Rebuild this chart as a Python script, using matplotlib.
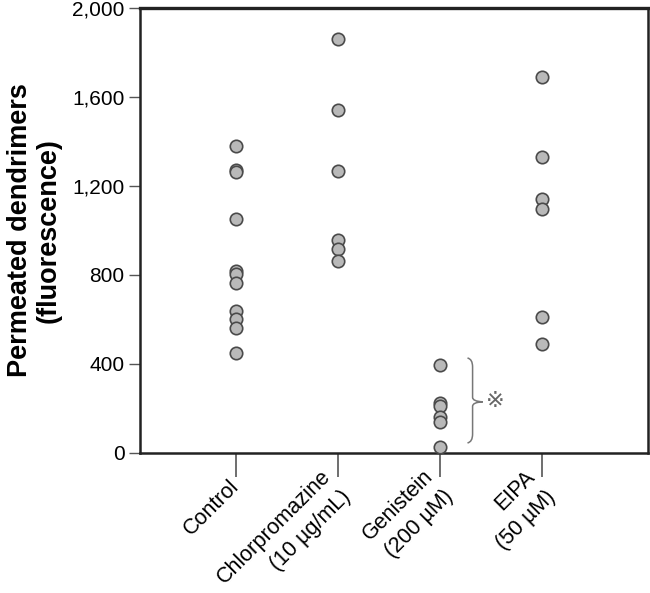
import numpy as np
import matplotlib
matplotlib.use("Agg")
from matplotlib import pyplot as plt
from matplotlib.path import Path
from matplotlib.patches import PathPatch

plt.rcParams['font.family'] = ['Liberation Sans', 'DejaVu Sans']

grupos = ["Control", "Chlorpromazine\n(10 µg/mL)", "Genistein\n(200 µM)", "EIPA\n(50 µM)"]
control = [1380, 1272, 1265, 1050, 818, 805, 765, 640, 600, 560, 448]
chlor = [1860, 1543, 1269, 957, 917, 863]
genis = [395, 223, 210, 163, 141, 28]
eipa = [1690, 1330, 1142, 1095, 613, 490]
dados = [control, chlor, genis, eipa]

fig = plt.figure(figsize=(6.5, 5.93), dpi=100)
ax = fig.add_axes([0.2154, 0.2361, 0.7816, 0.7504])

for i, vals in enumerate(dados):
    xs = np.full(len(vals), i + 1.0)
    ax.scatter(xs, vals, s=80, facecolor="#b9b9b9", edgecolor="#4a4a4a",
               linewidth=1.2, zorder=3, clip_on=False)

ax.set_xlim(0.06, 5.04)
ax.set_ylim(0, 2000)
ax.set_yticks([0, 400, 800, 1200, 1600, 2000])
ax.set_yticklabels(["0", "400", "800", "1,200", "1,600", "2,000"], fontsize=15)
ax.set_xticks([1, 2, 3, 4])
ax.set_xticklabels(grupos, fontsize=15.5, rotation=45, ha="right", va="center",
                   rotation_mode="anchor", multialignment="right", linespacing=1.45)

for s in ax.spines.values():
    s.set_linewidth(1.8)
    s.set_color("#222222")
ax.spines["top"].set_linewidth(2.4)
ax.tick_params(axis="y", length=8, width=1, color="#555555", pad=3)
ax.tick_params(axis="x", length=17, width=1.2, color="#555555", pad=5)

ax.set_ylabel("Permeated dendrimers\n(fluorescence)", fontsize=19.5,
              fontweight="bold", labelpad=8, linespacing=1.1)

# chave do Genistein
x0, xm, xt = 3.27, 3.32, 3.42
yt, ymid, yb = 427, 230, 45
verts = [(x0, yt), (xm, yt - 5), (xm, yt - 40),
         (xm, ymid + 20),
         (xm, ymid + 2), (xt, ymid),
         (xm, ymid - 2), (xm, ymid - 20),
         (xm, yb + 40),
         (xm, yb + 5), (x0, yb)]
codes = [Path.MOVETO, Path.CURVE3, Path.CURVE3,
         Path.LINETO,
         Path.CURVE3, Path.CURVE3,
         Path.CURVE3, Path.CURVE3,
         Path.LINETO,
         Path.CURVE3, Path.CURVE3]
ax.add_patch(PathPatch(Path(verts, codes), facecolor="none", edgecolor="#777777", lw=1.1))
ax.text(3.54, 234, "※", fontsize=16, color="#666666", ha="center", va="center",
        family=["DejaVu Sans", "Noto Sans CJK JP"])

fig.savefig("out.png", dpi=100)
